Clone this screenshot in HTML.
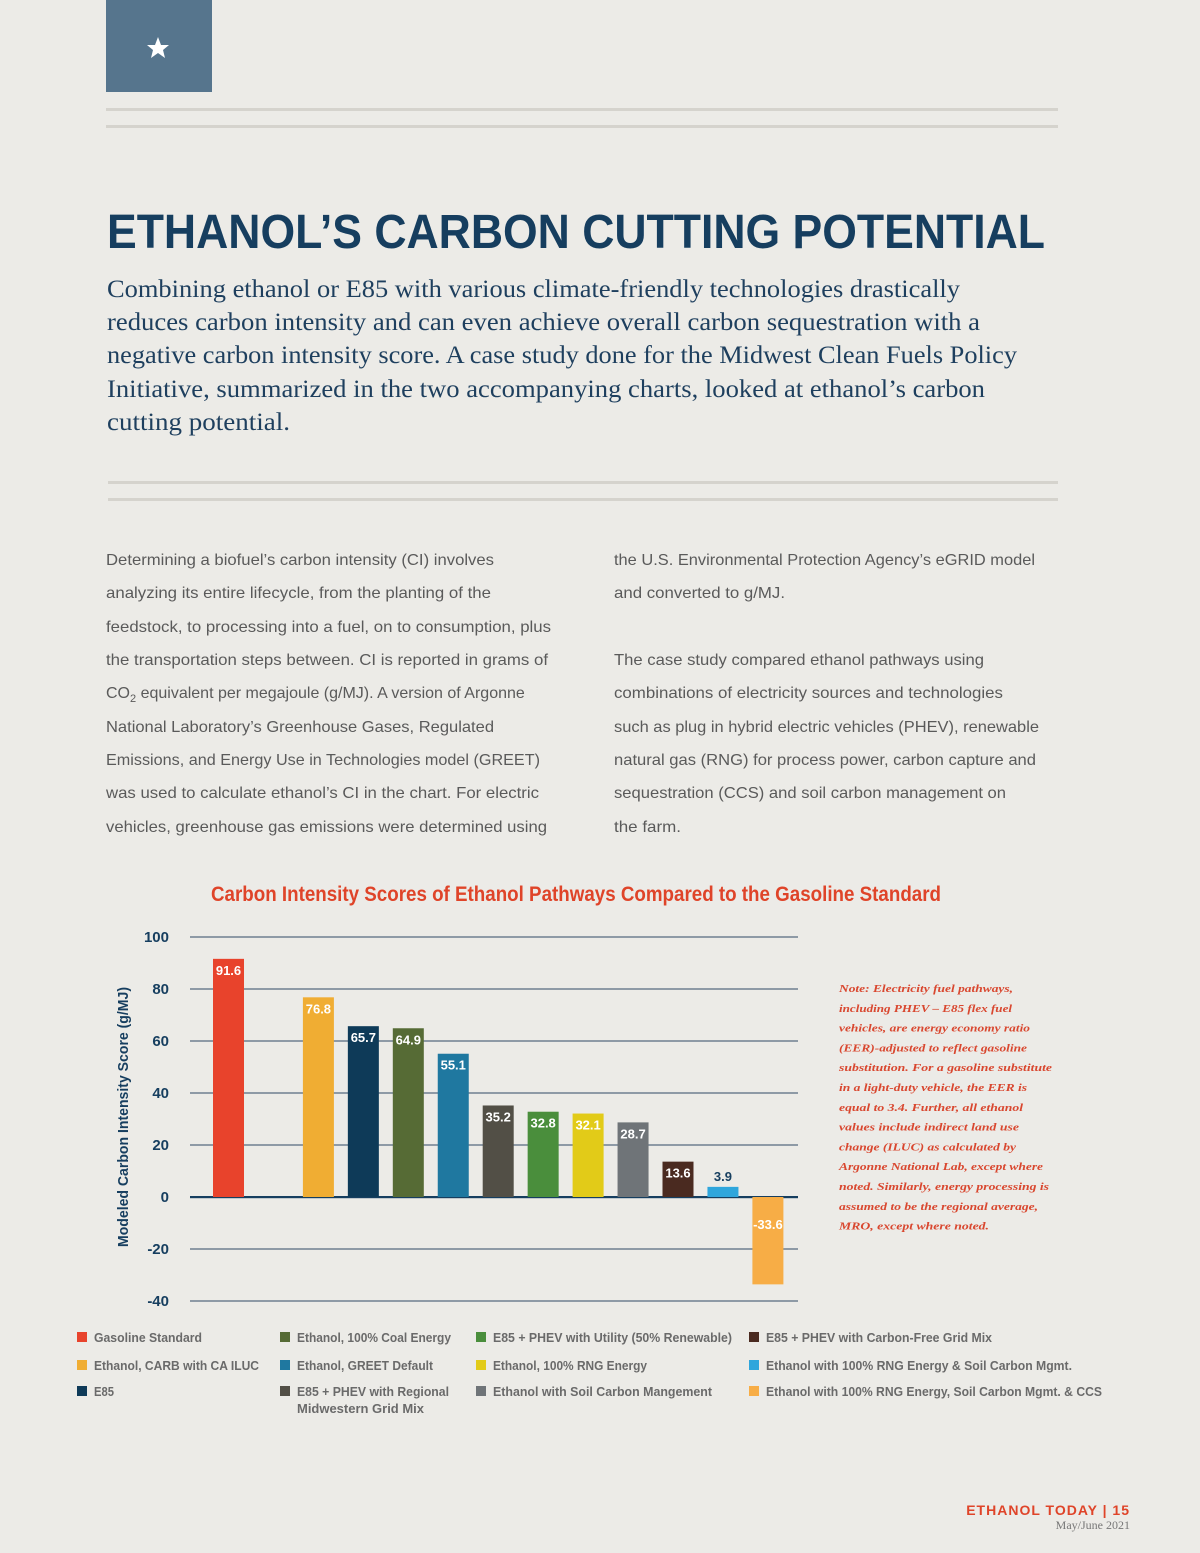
<!DOCTYPE html>
<html><head><meta charset="utf-8"><style>
html,body{margin:0;padding:0;background:#ecebe7;}
svg{display:block;}
.body{font-family:"Liberation Sans",sans-serif;font-size:16px;fill:#5a5a5a;}
.lead{font-family:"Liberation Serif",serif;font-size:25px;fill:#1e3f5e;}
.nar{font-family:"Liberation Sans Narrow","Liberation Sans",sans-serif;font-weight:bold;}
.note{font-family:"Liberation Serif",serif;font-style:italic;font-weight:bold;font-size:11px;fill:#d9472f;}
.leg{font-family:"Liberation Sans Narrow","Liberation Sans",sans-serif;font-weight:bold;font-size:13px;fill:#6a6a6a;}
</style></head><body>
<svg id="page" width="1200" height="1553" viewBox="0 0 1200 1553" xmlns="http://www.w3.org/2000/svg">
<rect width="1200" height="1553" fill="#ecebe7"/>
<g>
<rect x="106" y="0" width="106" height="92" fill="#56758d"/>
<polygon points="158,37 161,45 169,45 163,50 165,58 158,53 151,58 153,50 147,45 155,45" fill="#fff"/>
</g>
<rect x="106" y="108" width="952" height="3" fill="#d5d3cd"/>
<rect x="106" y="125" width="952" height="3" fill="#d5d3cd"/>
<text x="107" y="248" class="nar" font-size="48" fill="#163e5f" textLength="938" lengthAdjust="spacingAndGlyphs">ETHANOL’S CARBON CUTTING POTENTIAL</text>
<g>
<text class="lead" x="107" y="297" textLength="853" lengthAdjust="spacingAndGlyphs">Combining ethanol or E85 with various climate-friendly technologies drastically</text>
<text class="lead" x="107" y="330" textLength="873" lengthAdjust="spacingAndGlyphs">reduces carbon intensity and can even achieve overall carbon sequestration with a</text>
<text class="lead" x="107" y="363" textLength="910" lengthAdjust="spacingAndGlyphs">negative carbon intensity score. A case study done for the Midwest Clean Fuels Policy</text>
<text class="lead" x="107" y="397" textLength="878" lengthAdjust="spacingAndGlyphs">Initiative, summarized in the two accompanying charts, looked at ethanol’s carbon</text>
<text class="lead" x="107" y="430" textLength="183" lengthAdjust="spacingAndGlyphs">cutting potential.</text>
</g>
<rect x="108" y="481" width="950" height="3" fill="#d5d3cd"/>
<rect x="108" y="498" width="950" height="3" fill="#d5d3cd"/>
<g>
<text class="body" x="106" y="565" textLength="388" lengthAdjust="spacingAndGlyphs">Determining a biofuel’s carbon intensity (CI) involves</text>
<text class="body" x="106" y="598" textLength="385" lengthAdjust="spacingAndGlyphs">analyzing its entire lifecycle, from the planting of the</text>
<text class="body" x="106" y="632" textLength="445" lengthAdjust="spacingAndGlyphs">feedstock, to processing into a fuel, on to consumption, plus</text>
<text class="body" x="106" y="665" textLength="442" lengthAdjust="spacingAndGlyphs">the transportation steps between. CI is reported in grams of</text>
<text class="body" x="106" y="698">CO<tspan font-size="11" dy="4">2</tspan><tspan dy="-4"> equivalent per megajoule (g/MJ). A version of Argonne</tspan></text>
<text class="body" x="106" y="732" textLength="388" lengthAdjust="spacingAndGlyphs">National Laboratory’s Greenhouse Gases, Regulated</text>
<text class="body" x="106" y="765" textLength="434" lengthAdjust="spacingAndGlyphs">Emissions, and Energy Use in Technologies model (GREET)</text>
<text class="body" x="106" y="798" textLength="433" lengthAdjust="spacingAndGlyphs">was used to calculate ethanol’s CI in the chart. For electric</text>
<text class="body" x="106" y="832" textLength="441" lengthAdjust="spacingAndGlyphs">vehicles, greenhouse gas emissions were determined using</text>
</g>
<g>
<text class="body" x="614" y="565" textLength="421" lengthAdjust="spacingAndGlyphs">the U.S. Environmental Protection Agency’s eGRID model</text>
<text class="body" x="614" y="598" textLength="171" lengthAdjust="spacingAndGlyphs">and converted to g/MJ.</text>
<text class="body" x="614" y="665" textLength="370" lengthAdjust="spacingAndGlyphs">The case study compared ethanol pathways using</text>
<text class="body" x="614" y="698" textLength="389" lengthAdjust="spacingAndGlyphs">combinations of electricity sources and technologies</text>
<text class="body" x="614" y="732" textLength="425" lengthAdjust="spacingAndGlyphs">such as plug in hybrid electric vehicles (PHEV), renewable</text>
<text class="body" x="614" y="765" textLength="422" lengthAdjust="spacingAndGlyphs">natural gas (RNG) for process power, carbon capture and</text>
<text class="body" x="614" y="798" textLength="392" lengthAdjust="spacingAndGlyphs">sequestration (CCS) and soil carbon management on</text>
<text class="body" x="614" y="832" textLength="67" lengthAdjust="spacingAndGlyphs">the farm.</text>
</g>
<text x="211" y="901" class="nar" font-size="21" fill="#df4429" textLength="730" lengthAdjust="spacingAndGlyphs">Carbon Intensity Scores of Ethanol Pathways Compared to the Gasoline Standard</text>
<g id="chart"></g>
<text x="0" y="0" class="nar" font-size="15" fill="#163e5f" transform="translate(128,1117) rotate(-90)" text-anchor="middle" textLength="260" lengthAdjust="spacingAndGlyphs">Modeled Carbon Intensity Score (g/MJ)</text>
<g id="note"></g>
<g id="legend"></g>
<text x="1130" y="1515" text-anchor="end" class="nar" font-size="14" fill="#df4429" letter-spacing="1">ETHANOL TODAY | 15</text>
<text x="1130" y="1529" text-anchor="end" font-family="Liberation Serif,serif" font-size="12" fill="#777">May/June 2021</text>
</svg>
<script>
const categories=["Gasoline Standard","","Ethanol, CARB with CA ILUC","E85","Ethanol, 100% Coal Energy","Ethanol, GREET Default","E85 + PHEV with Regional Midwestern Grid Mix","E85 + PHEV with Utility (50% Renewable)","Ethanol, 100% RNG Energy","Ethanol with Soil Carbon Mangement","E85 + PHEV with Carbon-Free Grid Mix","Ethanol with 100% RNG Energy & Soil Carbon Mgmt.","Ethanol with 100% RNG Energy, Soil Carbon Mgmt. & CCS"];
const values=[91.6,null,76.8,65.7,64.9,55.1,35.2,32.8,32.1,28.7,13.6,3.9,-33.6];
const colors=["#e8432c",null,"#f0ad33","#0e3a58","#566b35","#1f78a0","#524f46","#4a8e3c","#e2cb18","#6f7478","#4a2a20","#2fa6dc","#f7ad46"];
const ticks=[100,80,60,40,20,0,-20,-40];
const legendItems=[[0,"Gasoline Standard"],[2,"Ethanol, CARB with CA ILUC"],[3,"E85"],[4,"Ethanol, 100% Coal Energy"],[5,"Ethanol, GREET Default"],[6,"E85 + PHEV with Regional|Midwestern Grid Mix"],[7,"E85 + PHEV with Utility (50% Renewable)"],[8,"Ethanol, 100% RNG Energy"],[9,"Ethanol with Soil Carbon Mangement"],[10,"E85 + PHEV with Carbon-Free Grid Mix"],[11,"Ethanol with 100% RNG Energy & Soil Carbon Mgmt."],[12,"Ethanol with 100% RNG Energy, Soil Carbon Mgmt. & CCS"]];
const noteLines=["Note: Electricity fuel pathways,","including PHEV – E85 flex fuel","vehicles, are energy economy ratio","(EER)-adjusted to reflect gasoline","substitution. For a gasoline substitute","in a light-duty vehicle, the EER is","equal to 3.4. Further, all ethanol","values include indirect land use","change (ILUC) as calculated by","Argonne National Lab, except where","noted. Similarly, energy processing is","assumed to be the regional average,","MRO, except where noted."];
const NS="http://www.w3.org/2000/svg";
function y(v){return 1197-(v)*2.6;}
function x(i){return 213+i*44.95;}
const g=document.getElementById('chart');
function mk(tag,attrs,parent){const e=document.createElementNS(NS,tag);for(const k in attrs)e.setAttribute(k,attrs[k]);parent.appendChild(e);return e;}
ticks.forEach(t=>{
 const l=mk('rect',{x:190,y:y(t)-(t===0?1:0.75),width:608,height:t===0?2.2:1.5,fill:t===0?'#163e5f':'#6e7f90'},g);
 
 
 const tx=mk('text',{x:169,y:y(t)+5,'text-anchor':'end','class':'nar','font-size':15,fill:'#163e5f'},g);
 tx.textContent=t;
 
 
});
values.forEach((v,i)=>{
 if(v===null)return;
 const top=Math.min(y(v),y(0)),h=Math.abs(y(v)-y(0));
 const b=mk('rect',{x:x(i),y:top,width:31,height:h,fill:colors[i]},g);
 
 
 const small=h<25;
 const ly=v<0?y(0)+32:(small?y(v)-6:y(v)+16);
 const t=mk('text',{x:x(i)+15.5,y:ly,'text-anchor':'middle','class':'nar','font-size':13,fill:small?'#163e5f':'#fff'},g);
 t.textContent=v;
 
 
});
const note=document.getElementById('note');
const noteEnds=[1013,1012,1030,1027,1052,1027,1023,1019,1016,1043,1049,1038,989];
noteLines.forEach((s,i)=>{
 const t=mk('text',{x:839,y:992+i*19.8,'class':'note',textLength:noteEnds[i]-839,lengthAdjust:'spacingAndGlyphs'},note);
 t.textContent=s;
 
 
});
const leg=document.getElementById('legend');
const colX=[77,280,476,749],rowY=[1342,1370,1396];
const legW=[[108,165,20],[154,136,152],[239,154,219],[226,306,336]];
legendItems.forEach((it,k)=>{
 const c=Math.floor(k/3),r=k%3;
 const s=mk('rect',{x:colX[c],y:rowY[r]-10,width:10,height:10,fill:colors[it[0]]},leg);
 
 
 const parts=it[1].split('|');
 parts.forEach((p,pi)=>{
  const t=mk('text',{x:colX[c]+17,y:rowY[r]+pi*17,'class':'leg',textLength:pi===0?legW[c][r]:127,lengthAdjust:'spacingAndGlyphs'},leg);
  t.textContent=p;
  
  
 });
});
</script>
</body></html>
